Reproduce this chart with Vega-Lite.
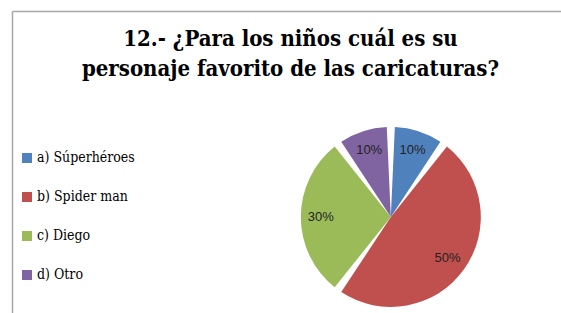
{
  "$schema": "https://vega.github.io/schema/vega-lite/v6.json",
  "width": 549,
  "height": 302,
  "autosize": {"type": "none"},
  "padding": {"left": 12, "top": 11, "right": 0, "bottom": 0},
  "background": "white",
  "view": {"stroke": null},
  "title": {
    "text": ["12.- ¿Para los niños cuál es su", "personaje favorito de las caricaturas?"],
    "font": "DejaVu Serif Condensed",
    "fontSize": 22,
    "fontWeight": "bold",
    "color": "#000000",
    "anchor": "middle",
    "frame": "group",
    "orient": "top",
    "baseline": "top",
    "offset": -70,
    "dx": 4,
    "lineHeight": 30
  },
  "data": {
    "values": [
      {"opcion": "a) Súperhéroes", "porcentaje": 0.1, "orden": 1},
      {"opcion": "b) Spider man", "porcentaje": 0.5, "orden": 2},
      {"opcion": "c) Diego", "porcentaje": 0.3, "orden": 3},
      {"opcion": "d) Otro", "porcentaje": 0.1, "orden": 4}
    ]
  },
  "layer": [
    {
      "mark": {"type": "point", "opacity": 0},
      "encoding": {
        "x": {"datum": 0, "type": "quantitative", "scale": {"domain": [0, 1]},
          "axis": {"orient": "top", "labels": false, "ticks": false, "grid": false, "title": null, "domainColor": "#a6a6a6", "domainWidth": 1.5}},
        "y": {"datum": 0, "type": "quantitative", "scale": {"domain": [0, 1]},
          "axis": {"orient": "left", "labels": false, "ticks": false, "grid": false, "title": null, "domainColor": "#a6a6a6", "domainWidth": 1.5}}
      }
    },
    {
      "mark": {"type": "arc", "outerRadius": 90, "padAngle": 0.09, "x": {"expr": "width*0.69"}, "y": {"expr": "height*0.682"}},
      "encoding": {
        "theta": {"field": "porcentaje", "type": "quantitative", "stack": true},
        "order": {"field": "orden", "type": "quantitative"},
        "color": {
          "field": "opcion",
          "type": "nominal",
          "scale": {"domain": ["a) Súperhéroes", "b) Spider man", "c) Diego", "d) Otro"], "range": ["#4f81bd", "#c0504d", "#9bbb59", "#8064a2"]},
          "legend": {
            "orient": "none",
            "legendX": 8,
            "legendY": 140,
            "title": null,
            "symbolType": "square",
            "symbolSize": 100,
            "symbolStrokeWidth": 0,
            "symbolOpacity": 1,
            "labelFont": "DejaVu Serif Condensed",
            "labelFontSize": 14,
            "labelColor": "#000000",
            "labelOffset": 3,
            "rowPadding": 25
          }
        }
      }
    },
    {
      "mark": {"type": "text", "radius": 70, "font": "Liberation Sans", "fontSize": 13, "color": "#222222", "x": {"expr": "width*0.69"}, "y": {"expr": "height*0.682"}},
      "encoding": {
        "theta": {"field": "porcentaje", "type": "quantitative", "stack": true},
        "order": {"field": "orden", "type": "quantitative"},
        "text": {"field": "porcentaje", "type": "quantitative", "format": ".0%"},
        "detail": {"field": "opcion"}
      }
    }
  ]
}
